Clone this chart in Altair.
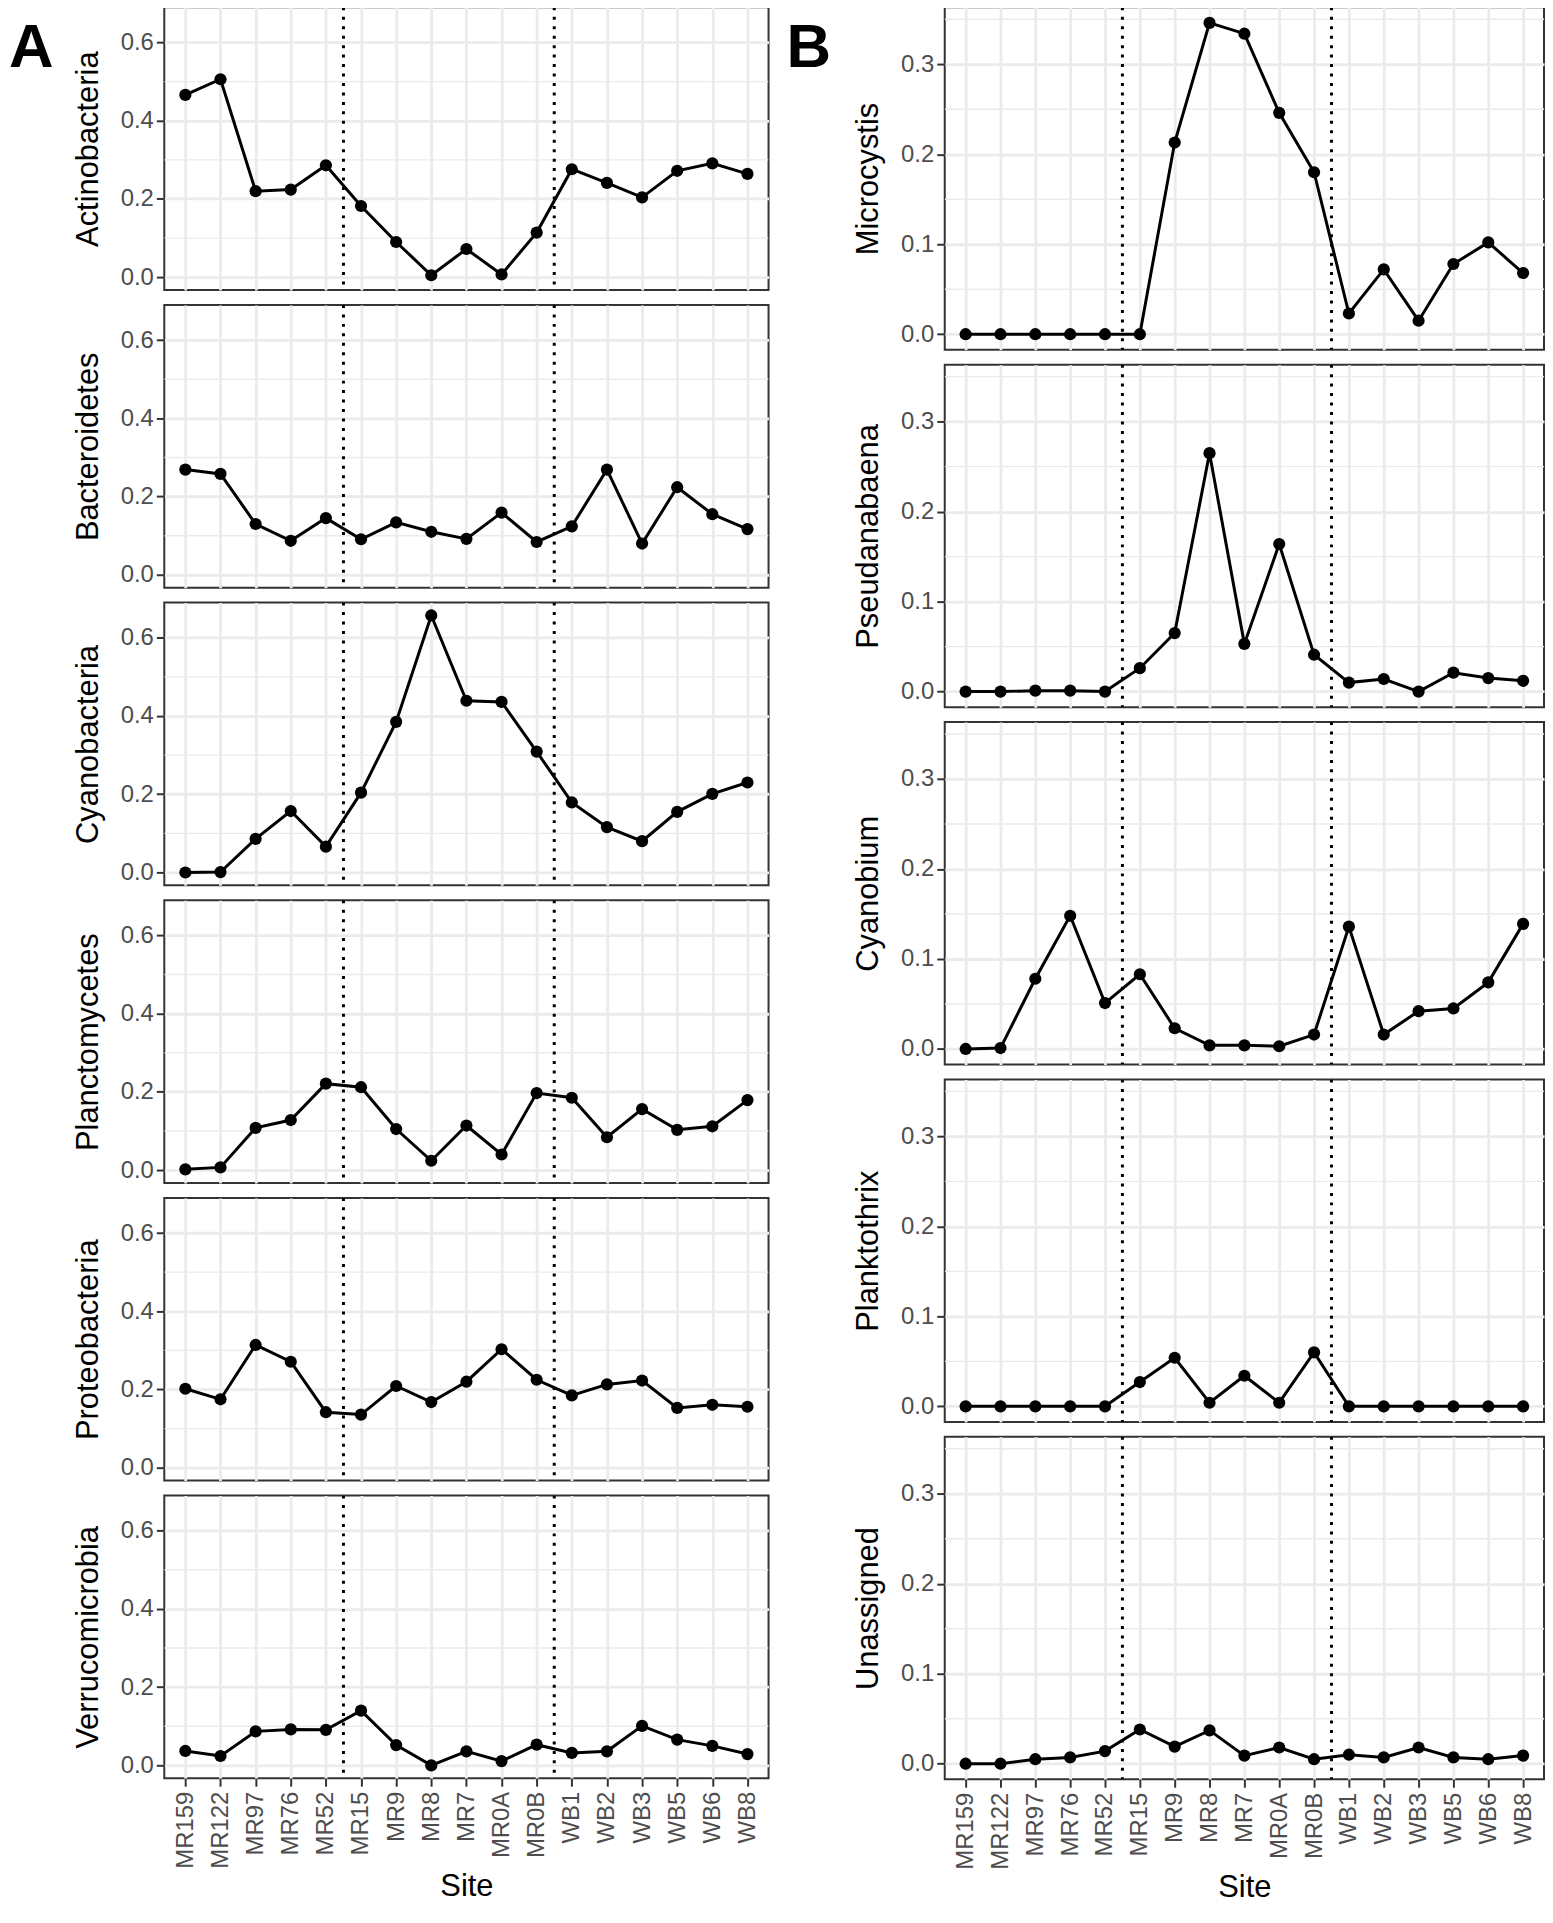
import json
import altair as alt
import pandas as pd

# ---------------- data ----------------
sites = ["MR159", "MR122", "MR97", "MR76", "MR52", "MR15", "MR9", "MR8", "MR7",
         "MR0A", "MR0B", "WB1", "WB2", "WB3", "WB5", "WB6", "WB8"]
break_after = ["MR52", "MR0B"]

phyla = ["Actinobacteria", "Bacteroidetes", "Cyanobacteria",
         "Planctomycetes", "Proteobacteria", "Verrucomicrobia"]
actinobacteria = [0.466, 0.506, 0.220, 0.224, 0.286, 0.182, 0.090, 0.005, 0.072,
                  0.007, 0.114, 0.276, 0.241, 0.204, 0.272, 0.291, 0.264]
bacteroidetes = [0.269, 0.258, 0.130, 0.087, 0.145, 0.091, 0.134, 0.110, 0.092,
                 0.159, 0.084, 0.124, 0.269, 0.080, 0.224, 0.155, 0.117]
cyanobacteria = [0.000, 0.001, 0.086, 0.157, 0.066, 0.204, 0.385, 0.657, 0.439,
                 0.436, 0.309, 0.179, 0.116, 0.080, 0.155, 0.201, 0.230]
planctomycetes = [0.002, 0.007, 0.108, 0.128, 0.221, 0.212, 0.105, 0.024, 0.114,
                  0.040, 0.197, 0.185, 0.084, 0.156, 0.103, 0.112, 0.179]
proteobacteria = [0.202, 0.175, 0.314, 0.271, 0.142, 0.136, 0.209, 0.168, 0.220,
                  0.303, 0.225, 0.185, 0.213, 0.223, 0.153, 0.161, 0.156]
verrucomicrobia = [0.037, 0.024, 0.087, 0.092, 0.091, 0.140, 0.052, 0.000, 0.036,
                   0.011, 0.053, 0.032, 0.036, 0.101, 0.066, 0.050, 0.029]

genera = ["Microcystis", "Pseudanabaena", "Cyanobium", "Planktothrix", "Unassigned"]
microcystis = [0.000, 0.000, 0.000, 0.000, 0.000, 0.000, 0.213, 0.346, 0.334,
               0.246, 0.180, 0.023, 0.072, 0.015, 0.078, 0.102, 0.068]
pseudanabaena = [0.000, 0.000, 0.001, 0.001, 0.000, 0.026, 0.065, 0.265, 0.053,
                 0.164, 0.041, 0.010, 0.014, 0.000, 0.021, 0.015, 0.012]
cyanobium = [0.000, 0.001, 0.078, 0.148, 0.051, 0.083, 0.023, 0.004, 0.004,
             0.003, 0.016, 0.136, 0.016, 0.042, 0.045, 0.074, 0.139]
planktothrix = [0.000, 0.000, 0.000, 0.000, 0.000, 0.027, 0.054, 0.004, 0.034,
                0.004, 0.060, 0.000, 0.000, 0.000, 0.000, 0.000, 0.000]
unassigned = [0.000, 0.000, 0.005, 0.007, 0.014, 0.038, 0.019, 0.037, 0.009,
              0.018, 0.005, 0.010, 0.007, 0.018, 0.007, 0.005, 0.009]

ticks_a = [0.0, 0.2, 0.4, 0.6]
minor_a = [0.1, 0.3, 0.5]
ticks_b = [0.0, 0.1, 0.2, 0.3]
minor_b = [0.05, 0.15, 0.25, 0.35]

FONT = "Liberation Sans"
label_expr = json.dumps(sites) + "[datum.value]"
n = len(sites)


def column(names, series, width, height, major, minor, letter, letter_dx):
    vmax = max(max(s) for s in series)
    vmin = min(min(s) for s in series)
    pad = 0.05 * (vmax - vmin)
    ydom = [vmin - pad, vmax + pad]
    xscale = alt.Scale(domain=[-0.6, n - 1 + 0.6], nice=False, zero=False)
    yscale = alt.Scale(domain=ydom, nice=False, zero=False)
    panels = []
    for i, (name, vals) in enumerate(zip(names, series)):
        last = i == len(names) - 1
        df = pd.DataFrame({"site": sites, "idx": list(range(n)), "value": vals})
        xaxis = alt.Axis(values=list(range(n)), labelExpr=label_expr,
                         title="Site" if last else None, labels=last, ticks=last,
                         grid=True, labelAngle=270, labelPadding=5, titlePadding=3)
        yaxis = alt.Axis(values=major, format=".1f", title=name, grid=True,
                         labelPadding=3, titlePadding=16)
        X = alt.X("idx:Q", scale=xscale, axis=xaxis)
        Y = alt.Y("value:Q", scale=yscale, axis=yaxis)

        minor_df = pd.DataFrame({"value": minor})
        minor_layer = alt.Chart(minor_df).mark_rule(
            color="#EBEBEB", strokeWidth=1.4, clip=True).encode(y=Y)
        div_df = pd.DataFrame({"idx": [sites.index(s) + 0.5 for s in break_after]})
        div_layer = alt.Chart(div_df).mark_rule(
            color="black", strokeWidth=3, strokeDash=[3, 6.5], clip=True).encode(x=X)
        base = alt.Chart(df)
        line = base.mark_line(color="black", strokeWidth=3).encode(x=X, y=Y)
        pts = base.mark_circle(color="black", size=150, opacity=1).encode(x=X, y=Y)
        layers = [minor_layer, div_layer, line, pts]
        if i == 0:
            lab = alt.Chart(pd.DataFrame({"t": [letter]})).mark_text(
                font=FONT, fontSize=62, fontWeight="bold", color="black",
                align="left", baseline="top").encode(
                x=alt.value(letter_dx), y=alt.value(11), text="t:N")
            layers.append(lab)
        panels.append(alt.layer(*layers).properties(width=width, height=height))
    return alt.vconcat(*panels, spacing=13)


left = column(phyla, [actinobacteria, bacteroidetes, cyanobacteria, planctomycetes,
                      proteobacteria, verrucomicrobia],
              607, 284, ticks_a, minor_a, "A", -156)
right = column(genera, [microcystis, pseudanabaena, cyanobium, planktothrix, unassigned],
               602, 344, ticks_b, minor_b, "B", -159)

chart = alt.hconcat(left, right, spacing=16).properties(
    padding={"top": -6, "left": 0, "right": 0, "bottom": 0}
).configure_view(
    stroke="#333333", strokeWidth=2
).configure_axis(
    gridColor="#EBEBEB", gridWidth=2.8, domain=False,
    tickColor="#333333", tickWidth=2, tickSize=8,
    labelFont=FONT, labelFontSize=24, labelColor="#4D4D4D",
    titleFont=FONT, titleFontSize=31, titleColor="black", titleFontWeight="normal"
)

chart.save("out.html", embed_options={"renderer": "svg", "actions": False})
